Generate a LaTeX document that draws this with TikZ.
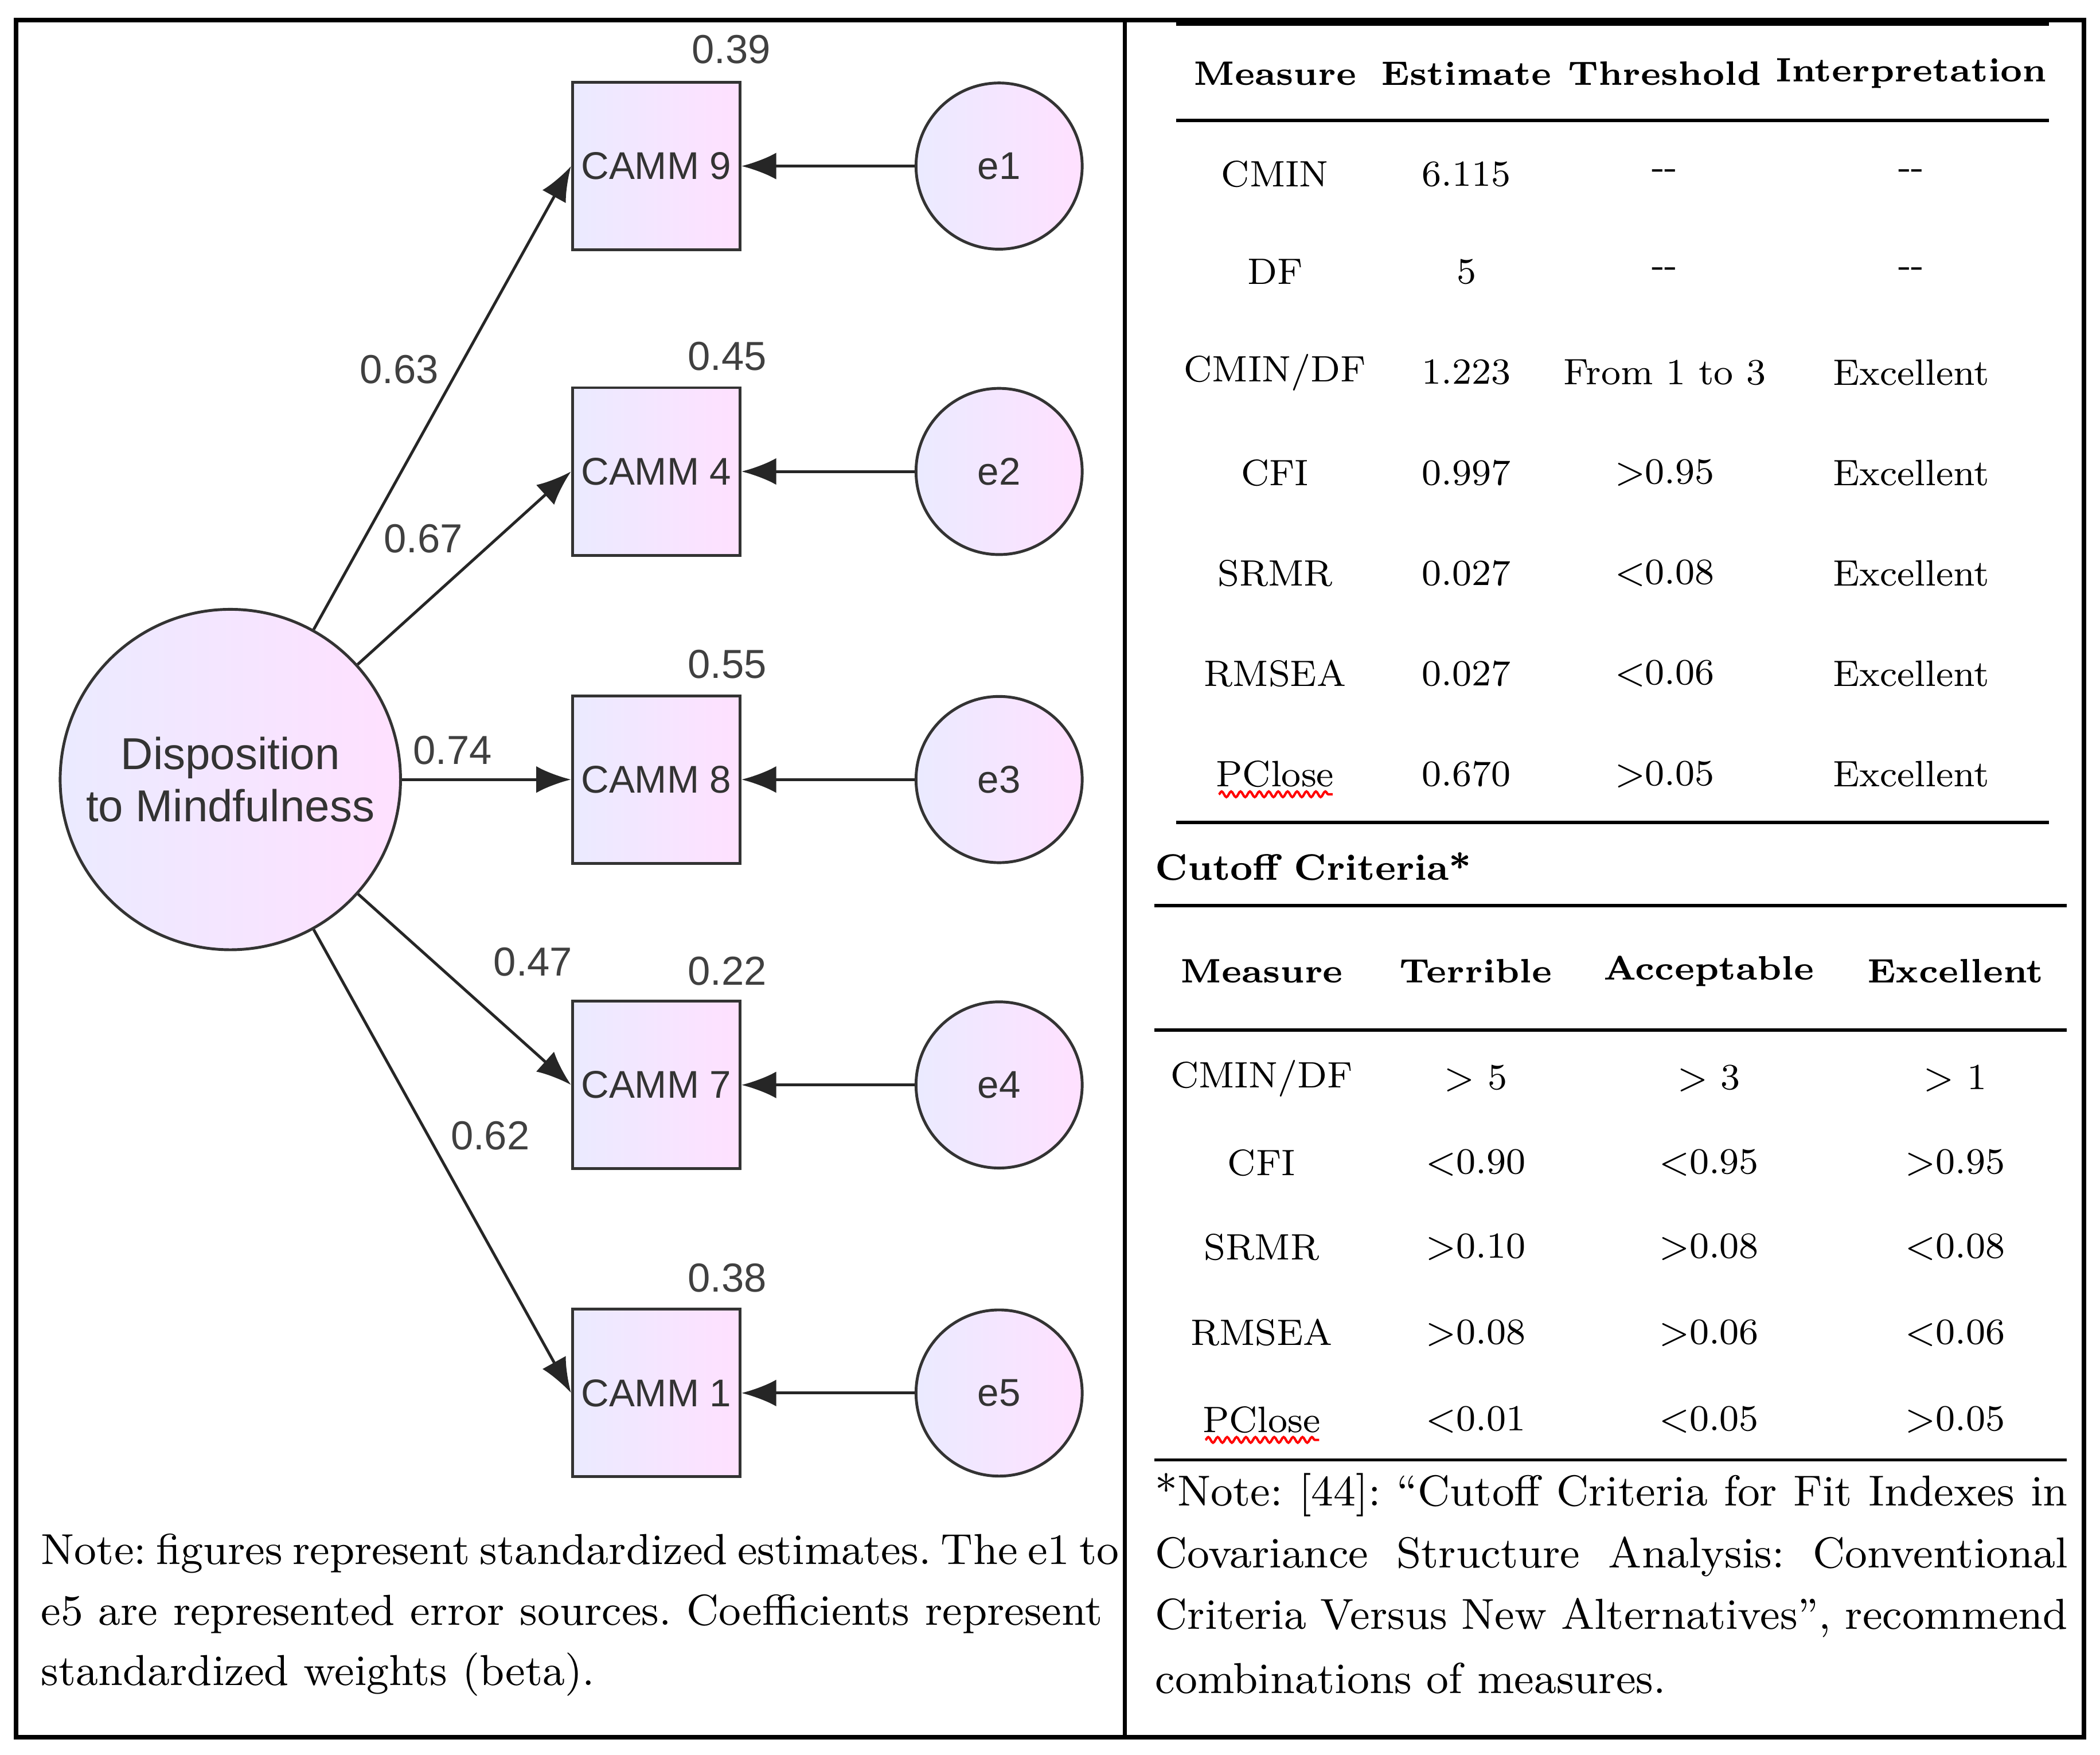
\documentclass[tikz,border=0pt]{standalone}
\usepackage{fontspec}
\newfontfamily\sansf{Liberation Sans}
\usetikzlibrary{arrows.meta,decorations.pathmorphing}
\begin{document}
\frenchspacing
\begin{tikzpicture}[x=0.01cm,y=-0.01cm,
  lat/.style={draw=black!80,line width=0.6pt,circle,left color=blue!8!white,right color=magenta!12!white,font=\sansf\fontsize{9.5}{11}\selectfont,text=black!80,align=center,inner sep=0pt},
  obs/.style={draw=black!80,line width=0.6pt,rectangle,minimum width=1.25cm,minimum height=1.25cm,left color=blue!8!white,right color=magenta!12!white,font=\sansf\fontsize{8.2}{10}\selectfont,text=black!80,inner sep=0pt},
  err/.style={lat,minimum size=1.24cm,font=\sansf\fontsize{8.2}{10}\selectfont},
  arr/.style={-{Latex[length=2.6mm,width=2mm]},line width=0.6pt,black!85},
  num/.style={font=\sansf\fontsize{8.6}{10}\selectfont,text=black!75,inner sep=0pt},
  tb/.style={font=\fontsize{7.8}{9}\selectfont,inner sep=0pt},
  th/.style={font=\bfseries\fontsize{7.2}{9}\selectfont,inner sep=0pt},
  rule/.style={line width=0.7pt},
  note/.style={font=\fontsize{9.2}{11}\selectfont,inner sep=0pt,anchor=west}]
\useasboundingbox (0,0) rectangle (1568,1310);
\draw[line width=0.9pt] (12,15) rectangle (1556,1297);
\draw[line width=0.9pt] (840,15) -- (840,1297);
% left diagram
\node[lat,minimum size=2.54cm] (dm) at (172,582) {Disposition\\to Mindfulness};
\foreach \n/\y/\lab in {c9/124/9,c4/352/4,c8/582/8,c7/810/7,c1/1040/1}{
  \node[obs] (\n) at (490,\y) {CAMM \lab};}
\foreach \n/\y/\lab in {e1/124/e1,e2/352/e2,e3/582/e3,e4/810/e4,e5/1040/e5}{
  \node[err] (\n) at (746,\y) {\lab};}
\foreach \a/\b in {e1/c9,e2/c4,e3/c8,e4/c7,e5/c1}{\draw[arr] (\a) -- (\b);}
\foreach \b in {c9,c4,c8,c7,c1}{\draw[arr] (dm) -- (\b.west);}
\node[num] (r9) at (546,37) {0.39};
\node[num] (r4) at (543,266) {0.45};
\node[num] (r8) at (543,496) {0.55};
\node[num] (r7) at (543,725) {0.22};
\node[num] (r1) at (543,954) {0.38};
\node[num] (b9) at (298,276) {0.63};
\node[num] (b4) at (316,402) {0.67};
\node[num] (b8) at (338,560) {0.74};
\node[num] (b7) at (398,718) {0.47};
\node[num] (b1) at (366,848) {0.62};
\node[note] (n1) at (30,1160) {\makebox[7.92cm][s]{Note: figures represent standardized estimates. The e1 to}};
\node[note] (n2) at (30,1205) {\makebox[7.92cm][s]{e5 are represented error sources. Coefficients represent}};
\node[note] (n3) at (30,1250) {standardized weights (beta).};
% right tables
\draw[rule] (878,18) -- (1530,18);
\draw[rule] (878,90) -- (1530,90);
\draw[rule] (878,614) -- (1530,614);
\draw[rule] (862,676) -- (1543,676);
\draw[rule] (862,769) -- (1543,769);
\draw[rule] (862,1090) -- (1543,1090);
\foreach \x/\t in {952/Measure,1095/Estimate,1243/Threshold,1427/Interpretation}{\node[th] at (\x,55) {\t};}
\foreach \y/\a/\b/\c/\d in {130/CMIN/6.115/{-{}-}/{-{}-},203/DF/5/{-{}-}/{-{}-},278/{CMIN/DF}/1.223/From 1 to 3/Excellent,353/CFI/0.997/>0.95/Excellent,428/SRMR/0.027/<0.08/Excellent,503/RMSEA/0.027/<0.06/Excellent,578/PClose/0.670/>0.05/Excellent}{
  \node[tb] at (952,\y) {\a}; \node[tb] at (1095,\y) {\b}; \node[tb] at (1243,\y) {\c}; \node[tb] at (1427,\y) {\d};}
\node[th,anchor=west,font=\bfseries\fontsize{7.8}{9}\selectfont] (cc) at (862,647) {Cutoff Criteria*};
\foreach \x/\t in {942/Measure,1102/Terrible,1276/Acceptable,1460/Excellent}{\node[th] at (\x,725) {\t};}
\foreach \y/\a/\b/\c/\d in {805/{CMIN/DF}/> 5/> 3/> 1,868/CFI/<0.90/<0.95/>0.95,931/SRMR/>0.10/>0.08/<0.08,995/RMSEA/>0.08/>0.06/<0.06,1060/PClose/<0.01/<0.05/>0.05}{
  \node[tb] at (942,\y) {\a}; \node[tb] at (1102,\y) {\b}; \node[tb] at (1276,\y) {\c}; \node[tb] at (1460,\y) {\d};}
\draw[red,line width=0.5pt,decorate,decoration={snake,amplitude=0.6pt,segment length=2pt}] (910,593) -- (995,593);
\draw[red,line width=0.5pt,decorate,decoration={snake,amplitude=0.6pt,segment length=2pt}] (900,1075) -- (985,1075);
\node[note] (m1) at (862,1116) {\makebox[6.81cm][s]{*Note: [44]: ``Cutoff Criteria for Fit Indexes in}};
\node[note] (m2) at (862,1162) {\makebox[6.81cm][s]{Covariance Structure Analysis: Conventional}};
\node[note] (m3) at (862,1208) {\makebox[6.81cm][s]{Criteria Versus New Alternatives'', recommend}};
\node[note] (m4) at (862,1253) {combinations of measures.};
\end{tikzpicture}
\end{document}
